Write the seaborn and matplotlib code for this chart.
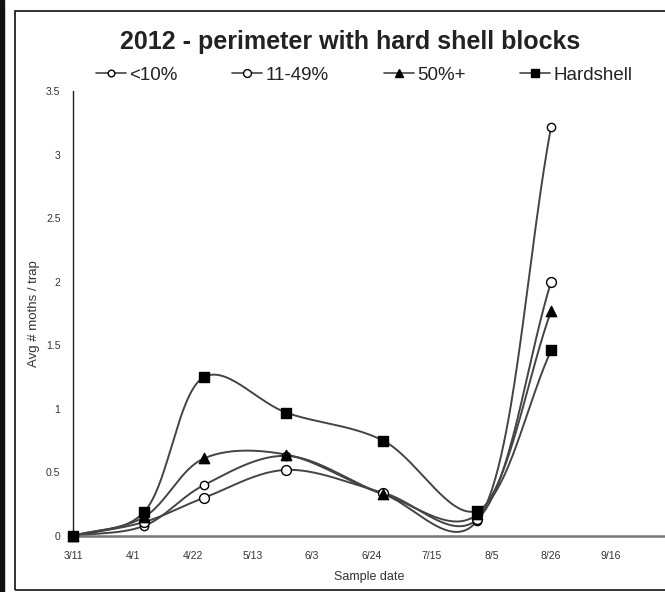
import matplotlib
matplotlib.use("Agg")
import matplotlib.pyplot as plt
import numpy as np
import pandas as pd
import seaborn as sns
from matplotlib.lines import Line2D
from matplotlib.patches import Rectangle

# sample dates and moth counts
sample_dates = ["2012-03-11", "2012-04-05", "2012-04-26", "2012-05-25",
                "2012-06-28", "2012-07-31", "2012-08-26"]
lt10 = [0, 0.08, 0.40, 0.63, 0.33, 0.12, 3.22]
mid = [0, 0.11, 0.30, 0.52, 0.34, 0.13, 2.00]
fifty = [0, 0.15, 0.61, 0.64, 0.33, 0.17, 1.77]
hardshell = [0, 0.19, 1.25, 0.97, 0.75, 0.20, 1.46]

series_names = ["<10%", "11-49%", "50%+", "Hardshell"]
tick_dates = ["2012-03-11", "2012-04-01", "2012-04-22", "2012-05-13", "2012-06-03",
              "2012-06-24", "2012-07-15", "2012-08-05", "2012-08-26", "2012-09-16"]
tick_labels = ["3/11", "4/1", "4/22", "5/13", "6/3", "6/24", "7/15", "8/5", "8/26", "9/16"]

# marker styles per series
styles = {
    "<10%": dict(marker="o", face="white", size=36),
    "11-49%": dict(marker="o", face="white", size=50),
    "50%+": dict(marker="^", face="black", size=55),
    "Hardshell": dict(marker="s", face="black", size=55),
}
line_col = "#444444"
XMAX = 208
YMAX = 3.5


def smooth_curve(x, y, sx, sy, alpha=0.25, n=60):
    # catmull-rom through the points (done in screen-ish units)
    P = np.column_stack([np.asarray(x, float) * sx, np.asarray(y, float) * sy])
    P = np.vstack([2 * P[0] - P[1], P, 2 * P[-1] - P[-2]])
    out = []
    for i in range(1, len(P) - 2):
        p0, p1, p2, p3 = P[i - 1], P[i], P[i + 1], P[i + 2]
        t0 = 0.0
        t1 = t0 + np.linalg.norm(p1 - p0) ** alpha
        t2 = t1 + np.linalg.norm(p2 - p1) ** alpha
        t3 = t2 + np.linalg.norm(p3 - p2) ** alpha
        t = np.linspace(t1, t2, n)[:, None]
        a1 = (t1 - t) / (t1 - t0) * p0 + (t - t0) / (t1 - t0) * p1
        a2 = (t2 - t) / (t2 - t1) * p1 + (t - t1) / (t2 - t1) * p2
        a3 = (t3 - t) / (t3 - t2) * p2 + (t - t2) / (t3 - t2) * p3
        b1 = (t2 - t) / (t2 - t0) * a1 + (t - t0) / (t2 - t0) * a2
        b2 = (t3 - t) / (t3 - t1) * a2 + (t - t1) / (t3 - t1) * a3
        c = (t2 - t) / (t2 - t1) * b1 + (t - t1) / (t2 - t1) * b2
        out.append(c)
    c = np.vstack(out)
    return c[:, 0] / sx, c[:, 1] / sy


def main():
    start = pd.Timestamp("2012-03-11")
    days = (pd.to_datetime(sample_dates) - start).days.values
    ticks = (pd.to_datetime(tick_dates) - start).days.values

    df = pd.DataFrame({"day": days, "<10%": lt10, "11-49%": mid,
                       "50%+": fifty, "Hardshell": hardshell})
    long_df = df.melt(id_vars="day", var_name="series", value_name="moths")

    sns.set_style("white")
    plt.rcParams["font.family"] = ["Liberation Sans", "DejaVu Sans"]

    fig = plt.figure(figsize=(6.65, 5.92), dpi=100)
    ax_w, ax_h = (665 - 73), (536 - 91)
    ax = fig.add_axes([73 / 665, 56 / 592, ax_w / 665, ax_h / 592])

    # smooth curves
    for name in series_names:
        sub = long_df[long_df.series == name]
        xs, ys = smooth_curve(sub.day, sub.moths, ax_w / XMAX, ax_h / YMAX)
        sns.lineplot(x=xs, y=ys, ax=ax, color=line_col, lw=1.4, zorder=2,
                     sort=False, estimator=None)

    # markers
    for name in series_names:
        sub = long_df[long_df.series == name]
        st = styles[name]
        sns.scatterplot(data=sub, x="day", y="moths", ax=ax, marker=st["marker"],
                        s=st["size"], color=st["face"], edgecolor="black",
                        linewidth=1.0, zorder=3, clip_on=False)

    ax.set_xlim(0, XMAX)
    ax.set_ylim(0, YMAX)
    ax.set_xticks(ticks)
    ax.set_xticklabels(tick_labels)
    ax.set_yticks([0, 0.5, 1, 1.5, 2, 2.5, 3, 3.5])
    ax.set_yticklabels(["0", "0.5", "1", "1.5", "2", "2.5", "3", "3.5"])
    ax.tick_params(axis="both", labelsize=7.5, colors="#333333", length=4, width=0.8,
                   direction="out", pad=5)
    ax.tick_params(axis="x", pad=7)
    ax.set_xlabel("Sample date", fontsize=9, color="#333333", labelpad=7)
    ax.set_ylabel("Avg # moths / trap", fontsize=9.5, color="#333333", labelpad=4)

    sns.despine(ax=ax)
    ax.spines["left"].set_color("#222222")
    ax.spines["left"].set_linewidth(1.0)
    ax.spines["bottom"].set_color("#777777")
    ax.spines["bottom"].set_linewidth(1.8)

    fig.text(0.526, 1 - 42 / 592, "2012 - perimeter with hard shell blocks",
             ha="center", va="center", fontsize=18, fontweight="bold", color="#222222")

    handles = []
    for name in series_names:
        st = styles[name]
        handles.append(Line2D([0], [0], color=line_col, lw=1.2, marker=st["marker"],
                              markerfacecolor=st["face"], markeredgecolor="black",
                              markersize=np.sqrt(st["size"]) * 0.8))
    fig.legend(handles, series_names, loc="center", ncol=4, frameon=False,
               bbox_to_anchor=(0.548, 1 - 75 / 592), fontsize=13.5, handlelength=1.6,
               handletextpad=0.2, columnspacing=2.9, labelcolor="#222222")

    # outer frame like the pasted chart
    fig.patches.append(Rectangle((15 / 665, 2 / 592), 1.0, 579 / 592, fill=False,
                                 lw=1.2, edgecolor="#111111", transform=fig.transFigure))
    fig.patches.append(Rectangle((0, 0), 4 / 665, 1, color="#111111",
                                 transform=fig.transFigure))

    fig.savefig("out.png", dpi=100)


if __name__ == "__main__":
    main()
